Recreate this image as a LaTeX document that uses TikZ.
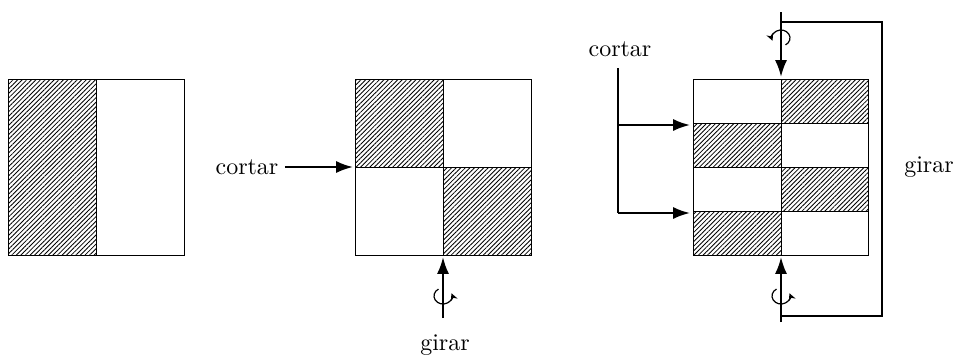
\documentclass[tikz,border=0pt]{standalone}
\usetikzlibrary{arrows.meta,patterns.meta}
\begin{document}
\begin{tikzpicture}[x=0.417pt,y=-0.417pt,
  boxline/.style={line width=0.4pt},
  hatch/.style={pattern={Lines[angle=45,distance=1.35pt,line width=0.35pt]}},
  arr/.style={line width=0.9pt,-{Latex[length=7pt,width=5pt]}},
  thick line/.style={line width=0.9pt},
  rot/.style={line width=0.5pt,-{Stealth[length=3pt,width=3pt]}},
  lbl/.style={inner sep=0pt,font=\normalsize}]
\useasboundingbox (0,0) rectangle (960,363);
% square 1
\fill[hatch] (8,79) rectangle (96,255);
\draw[boxline] (8,79) rectangle (184,255);
\draw[boxline] (96,79) -- (96,255);
% square 2
\fill[hatch] (355,79) rectangle (443,167);
\fill[hatch] (443,167) rectangle (531,255);
\draw[boxline] (355,79) rectangle (531,255);
\draw[boxline] (443,79) -- (443,255);
\draw[boxline] (355,167) -- (531,167);
% square 3
\fill[hatch] (781,79) rectangle (868,123);
\fill[hatch] (693,123) rectangle (781,167);
\fill[hatch] (781,167) rectangle (868,211);
\fill[hatch] (693,211) rectangle (781,255);
\draw[boxline] (693,79) rectangle (868,255);
\draw[boxline] (781,79) -- (781,255);
\foreach \yy in {123,167,211} \draw[boxline] (693,\yy) -- (868,\yy);
% labels
\node[lbl] (cut2) at (247,167) {cortar};
\node[lbl] (gir2) at (445,345) {girar};
\node[lbl] (cut3) at (620,49) {cortar};
\node[lbl] (gir3) at (929,167) {girar};
% coordinates
\coordinate (c2in) at (353,167);
\coordinate (g2s) at (443,318);
\coordinate (g2e) at (443,257);
\coordinate (t3s) at (781,12);
\coordinate (t3e) at (781,77);
\coordinate (b3s) at (781,322);
\coordinate (b3e) at (781,257);
\coordinate (bra) at (781,22);
\coordinate (brb) at (882,22);
\coordinate (brc) at (882,316);
\coordinate (brd) at (781,316);
\coordinate (ct) at (618,68);
\coordinate (cm) at (618,125);
\coordinate (cb) at (618,213);
\coordinate (am) at (690,125);
\coordinate (ab) at (690,213);
% connectors
\draw[arr] (cut2.east) ++(6,0) -- (c2in);
\draw[arr] (g2s) -- (g2e);
\draw[arr] (t3s) -- (t3e);
\draw[arr] (b3s) -- (b3e);
\draw[thick line] (bra) -- (brb) -- (brc) -- (brd);
\draw[thick line] (ct) -- (cb);
\draw[arr] (cb) -- (ab);
\draw[arr] (cm) -- (am);
% rotation symbols
\draw[rot] (443,296) ++(-120:9 and 8) arc[start angle=-120,end angle=-380,x radius=9,y radius=8];
\draw[rot] (781,296) ++(-120:9 and 8) arc[start angle=-120,end angle=-380,x radius=9,y radius=8];
\draw[rot] (781,38) ++(60:9 and 8) arc[start angle=60,end angle=-200,x radius=9,y radius=8];
\end{tikzpicture}
\end{document}
